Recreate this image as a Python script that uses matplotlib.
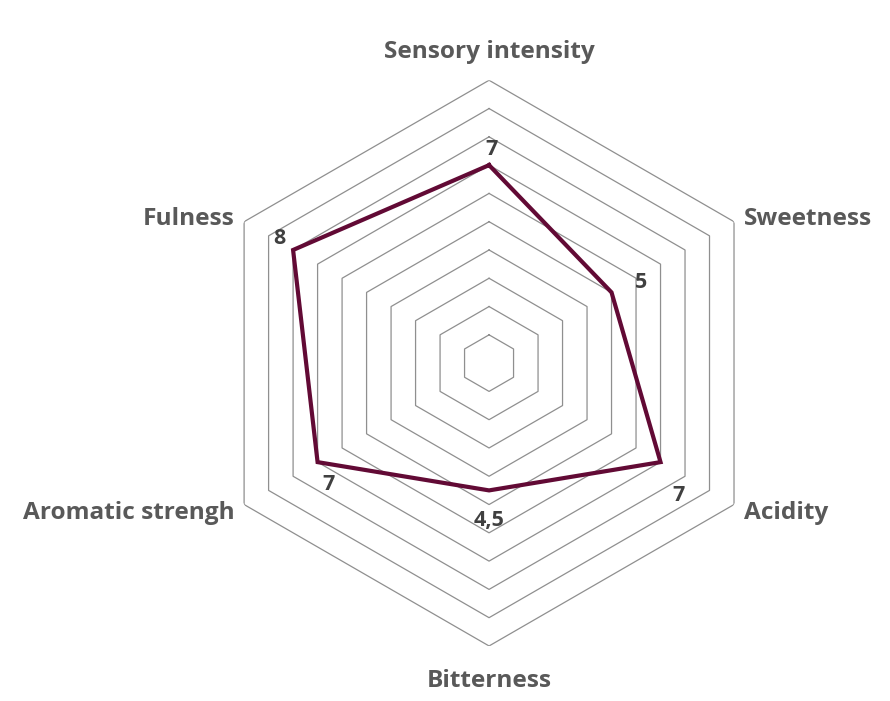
import numpy as np
import matplotlib
matplotlib.use("Agg")
import matplotlib.pyplot as plt

categories = ["Sensory intensity", "Sweetness", "Acidity", "Bitterness",
              "Aromatic strengh", "Fulness"]
values = [7, 5, 7, 4.5, 7, 8]
value_labels = ["7", "5", "7", "4,5", "7", "8"]
ring_levels = [1, 2, 3, 4, 5, 6, 7, 8, 9, 10]

plt.rcParams["font.family"] = ["Open Sans", "DejaVu Sans"]

fig = plt.figure(figsize=(8.9, 7.01), dpi=100)
ax = fig.add_axes([0.2315, 0.0785, 0.636, 0.807], projection="polar")
ax.set_theta_offset(np.pi / 2)
ax.set_theta_direction(-1)
ax.set_ylim(0, 10)
ax.grid(False)
ax.spines["polar"].set_visible(False)
ax.set_xticks([])
ax.set_yticks([])
ax.patch.set_alpha(0)

n = len(categories)
angles = np.arange(n) * 2 * np.pi / n
closed = np.append(angles, angles[0])

# hexagonal grid rings
for lvl in ring_levels:
    ax.plot(closed, [lvl] * (n + 1), color="#8f8f8f", lw=0.9, zorder=1)

# data series
ax.plot(closed, values + values[:1], color="#620a35", lw=3.0,
        solid_joinstyle="miter", zorder=3)

# value labels
offsets = [(2, 11), (21, 7), (13, -24), (0, -22), (8, -16), (-10, 8)]
for a, v, txt, off in zip(angles, values, value_labels, offsets):
    ax.annotate(txt, xy=(a, v), xytext=off, textcoords="offset points",
                ha="center", va="center", fontsize=15.5, fontweight="bold",
                color="#404040", zorder=4)

# category labels
label_r = [11.1, 10.4, 10.4, 11.15, 10.4, 10.4]
label_ha = ["center", "left", "left", "center", "right", "right"]
for a, r, name, ha in zip(angles, label_r, categories, label_ha):
    ax.annotate(name, xy=(a, r), xytext=(0, -2), textcoords="offset points",
                ha=ha, va="center", fontsize=17.6, fontweight="bold",
                color="#595959", annotation_clip=False)

fig.savefig("out.png", dpi=100)
